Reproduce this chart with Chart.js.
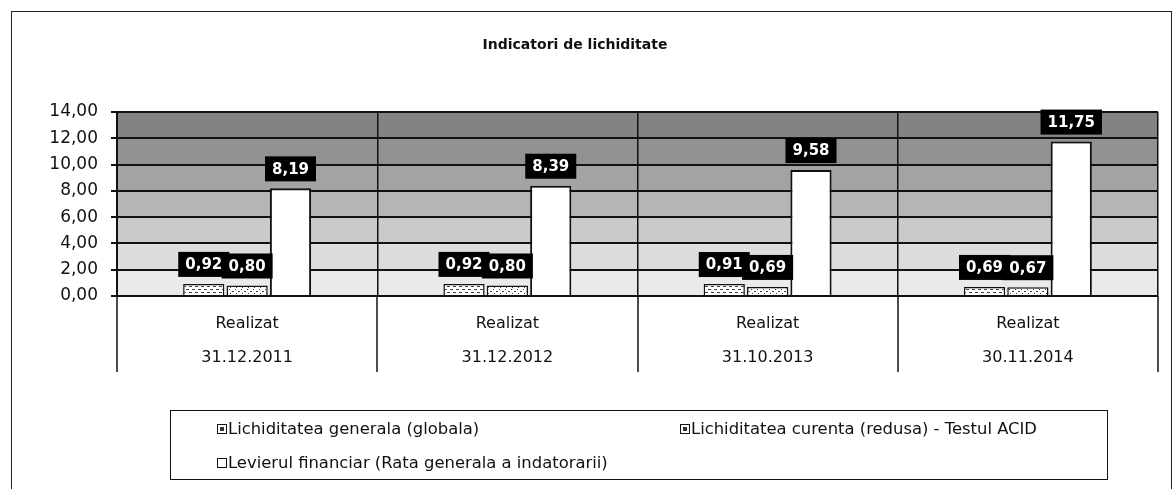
<!DOCTYPE html>
<html>
<head>
<meta charset="utf-8">
<script src="https://cdn.jsdelivr.net/npm/chart.js@4"></script>
<style>
  body { margin: 0; background: #fff; font-family: "DejaVu Sans", sans-serif; }
  #wrap { position: relative; width: 1174px; height: 489px; }
  #frame { position: absolute; left: 11px; top: 11px; width: 1159px; height: 482px; border: 1.5px solid #222; pointer-events: none; }
  #title { position: absolute; left: 0; width: 1150px; top: 36px; text-align: center; font-weight: bold; font-size: 14px; color: #111; }
  #legend { position: absolute; left: 170px; top: 410px; width: 936px; height: 68px; border: 1.5px solid #111; font-size: 16.4px; color: #111; }
  .item { position: absolute; white-space: nowrap; }
  .box { display: inline-block; width: 8px; height: 8px; border: 1.5px solid #111; margin-right: 1px; vertical-align: 0px; position: relative; }
  .box.dot::after { content: ""; position: absolute; left: 2px; top: 2px; width: 4px; height: 4px; background: #333; }
</style>
</head>
<body>
<div id="wrap">
  <canvas id="barChart" width="1174" height="489"></canvas>
  <div id="frame"></div>
  <div id="title">Indicatori de lichiditate</div>
  <div id="legend"></div>
</div>
<script>
  // date
  const periods = ['31.12.2011', '31.12.2012', '31.10.2013', '30.11.2014'];
  const lichGenerala = [0.92, 0.92, 0.91, 0.69];
  const lichCurenta = [0.80, 0.80, 0.69, 0.67];
  const levier = [8.19, 8.39, 9.58, 11.75];
  const seriesNames = [
    'Lichiditatea generala (globala)',
    'Lichiditatea curenta (redusa) - Testul ACID',
    'Levierul financiar (Rata generala a indatorarii)'
  ];
  const yMin = 0, yMax = 14, yStep = 2;
  const bandColors = ['#eaeaea', '#dddddd', '#cacaca', '#b5b5b5', '#a3a3a3', '#929292', '#838383'];

  const fmt = v => v.toFixed(2).replace('.', ',');

  // mici texturi pentru primele doua serii
  function makePattern(kind) {
    const c = document.createElement('canvas');
    c.width = 6; c.height = 6;
    const g = c.getContext('2d');
    g.fillStyle = '#fff';
    g.fillRect(0, 0, 6, 6);
    g.fillStyle = '#444';
    if (kind === 1) {
      g.fillRect(0, 1, 3, 1);
      g.fillRect(3, 4, 3, 1);
    } else {
      g.fillRect(1, 1, 1, 1);
      g.fillRect(4, 3, 2, 1);
      g.fillRect(2, 5, 1, 1);
    }
    return g.createPattern(c, 'repeat');
  }

  const bands = {
    id: 'bands',
    beforeDraw(chart) {
      const { ctx, chartArea, scales } = chart;
      const y = scales.y;
      ctx.save();
      for (let v = yMin, i = 0; v < yMax; v += yStep, i++) {
        const top = y.getPixelForValue(v + yStep);
        const bot = y.getPixelForValue(v);
        ctx.fillStyle = bandColors[i];
        ctx.fillRect(chartArea.left, top, chartArea.right - chartArea.left, bot - top);
      }
      ctx.restore();
    },
    afterDraw(chart) {
      // separatoare verticale sub axa categoriilor
      const { ctx, chartArea, scales } = chart;
      const x = scales.x;
      ctx.save();
      ctx.strokeStyle = '#111';
      ctx.lineWidth = 1.5;
      for (let i = 0; i <= periods.length; i++) {
        const px = Math.round(x.getPixelForValue(i - 0.5));
        ctx.beginPath();
        ctx.moveTo(px, chartArea.bottom);
        ctx.lineTo(px, chartArea.bottom + 76);
        ctx.stroke();
      }
      ctx.restore();
    }
  };

  const valueLabels = {
    id: 'valueLabels',
    afterDatasetsDraw(chart) {
      const ctx = chart.ctx;
      ctx.save();
      ctx.font = 'bold 15px "DejaVu Sans", sans-serif';
      ctx.textAlign = 'center';
      ctx.textBaseline = 'middle';
      const items = [];
      chart.data.datasets.forEach((ds, di) => {
        chart.getDatasetMeta(di).data.forEach((bar, i) => {
          items.push({ txt: fmt(ds.data[i]), x: bar.x, bottom: bar.y - 7 });
        });
      });
      const h = 25;
      // intai cutiile negre, apoi textul
      items.forEach(it => {
        const w = ctx.measureText(it.txt).width + 14;
        ctx.fillStyle = '#000';
        ctx.fillRect(it.x - w / 2, it.bottom - h, w, h);
      });
      items.forEach(it => {
        ctx.fillStyle = '#fff';
        ctx.fillText(it.txt, it.x, it.bottom - h / 2 + 1);
      });
      ctx.restore();
    }
  };

  const ctxBar = document.getElementById('barChart').getContext('2d');
  new Chart(ctxBar, {
    type: 'bar',
    data: {
      labels: periods.map(p => ['Realizat', p]),
      datasets: [{
        label: seriesNames[0],
        data: lichGenerala,
        backgroundColor: makePattern(1),
        borderColor: '#111',
        borderWidth: 1.5
      }, {
        label: seriesNames[1],
        data: lichCurenta,
        backgroundColor: makePattern(2),
        borderColor: '#111',
        borderWidth: 1.5
      }, {
        label: seriesNames[2],
        data: levier,
        backgroundColor: '#fff',
        borderColor: '#111',
        borderWidth: 2
      }]
    },
    options: {
      responsive: false,
      animation: false,
      categoryPercentage: 0.5,
      barPercentage: 0.95,
      layout: { padding: { left: 0, right: 16, top: 112, bottom: 113 } },
      plugins: {
        legend: { display: false },
        title: { display: false },
        tooltip: { enabled: false }
      },
      scales: {
        x: {
          grid: { offset: true, color: '#111', lineWidth: 1.5, drawTicks: false },
          border: { color: '#111', width: 2 },
          ticks: {
            color: '#111',
            padding: 11,
            font: { family: '"DejaVu Sans", sans-serif', size: 16, lineHeight: 2.1 }
          },
          afterFit(scale) { scale.height = 80; }
        },
        y: {
          min: yMin,
          max: yMax,
          grid: { color: '#111', lineWidth: 2, tickLength: 6 },
          border: { color: '#111', width: 2 },
          ticks: {
            stepSize: yStep,
            color: '#111',
            padding: 13,
            font: { family: '"DejaVu Sans", sans-serif', size: 17 },
            callback: v => fmt(v)
          },
          afterFit(scale) { scale.width = 117; }
        }
      }
    },
    plugins: [bands, valueLabels]
  });

  // legenda
  const legend = document.getElementById('legend');
  const spots = [[46, 8], [509, 8], [46, 42]];
  seriesNames.forEach((name, i) => {
    const d = document.createElement('div');
    d.className = 'item';
    d.style.left = spots[i][0] + 'px';
    d.style.top = spots[i][1] + 'px';
    d.innerHTML = '<span class="box' + (i < 2 ? ' dot' : '') + '"></span>' + name;
    legend.appendChild(d);
  });
</script>
</body>
</html>
